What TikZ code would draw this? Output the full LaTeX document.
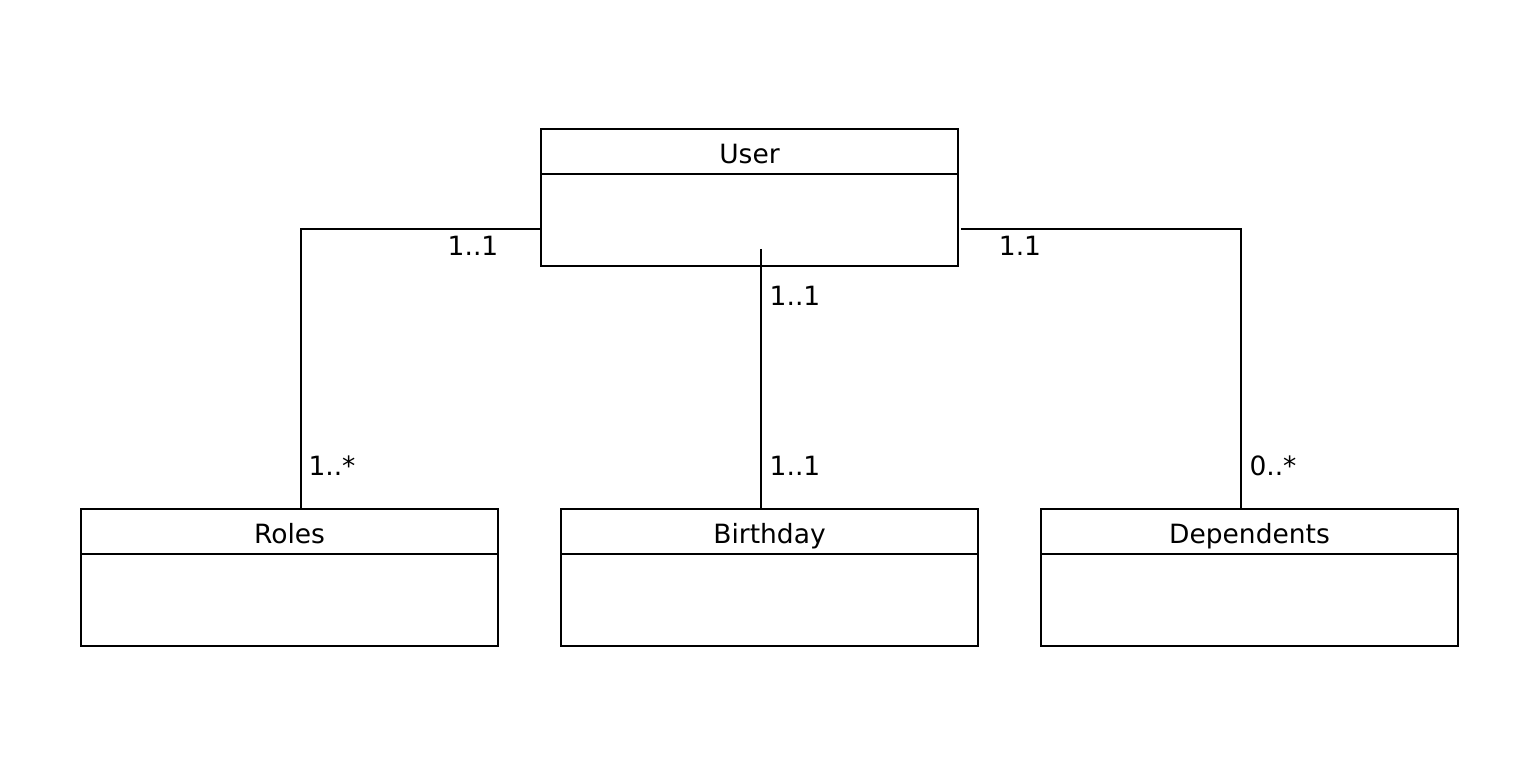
\documentclass[tikz,border=0pt]{standalone}
\usepackage{fontspec}
\setmainfont{DejaVu Sans}
\begin{document}
\begin{tikzpicture}[x=1pt,y=-1pt,line width=1.6pt,
  cls/.style={draw,rectangle,minimum width=417pt,minimum height=137pt,inner sep=0pt},
  ttl/.style={font=\fontsize{26.5}{30}\selectfont,inner sep=0pt,anchor=base},
  mult/.style={font=\fontsize{26.5}{30}\selectfont,inner sep=0pt,anchor=base}]
\useasboundingbox (0,0) rectangle (1528,772);
\node[cls] (user) at (749.5,197.5) {};
\node[cls] (roles) at (289.5,577.5) {};
\node[cls] (bday) at (769.5,577.5) {};
\node[cls] (dep) at (1249.5,577.5) {};
\foreach \n in {user,roles,bday,dep}{
  \draw ([yshift=-46pt]\n.north west) -- ([yshift=-46pt]\n.north east);
}
\node[ttl] (tuser) at ([yshift=-35pt]user.north) {User};
\node[ttl] (troles) at ([yshift=-35pt]roles.north) {Roles};
\node[ttl] (tbday) at ([yshift=-35pt]bday.north) {Birthday};
\node[ttl] (tdep) at ([yshift=-35pt]dep.north) {Dependents};
\coordinate (ul) at ([yshift=-31.5pt]user.west);
\coordinate (rl) at ([xshift=11.5pt]roles.north);
\coordinate (um) at ([xshift=11.5pt,yshift=18pt]user.south);
\coordinate (ur) at ([xshift=2pt,yshift=-31.5pt]user.east);
\coordinate (dr) at ([xshift=-8.5pt]dep.north);
\draw (ul) -| (rl);
\draw (um) -- (um |- bday.north);
\draw (ur) -| (dr);
\node[mult] (m1) at (473,255) {1..1};
\node[mult] (m2) at (795,305) {1..1};
\node[mult] (m3) at (1020,255) {1.1};
\node[mult] (m4) at (332,475) {1..*};
\node[mult] (m5) at (795,475) {1..1};
\node[mult] (m6) at (1273,475) {0..*};
\end{tikzpicture}
\end{document}
